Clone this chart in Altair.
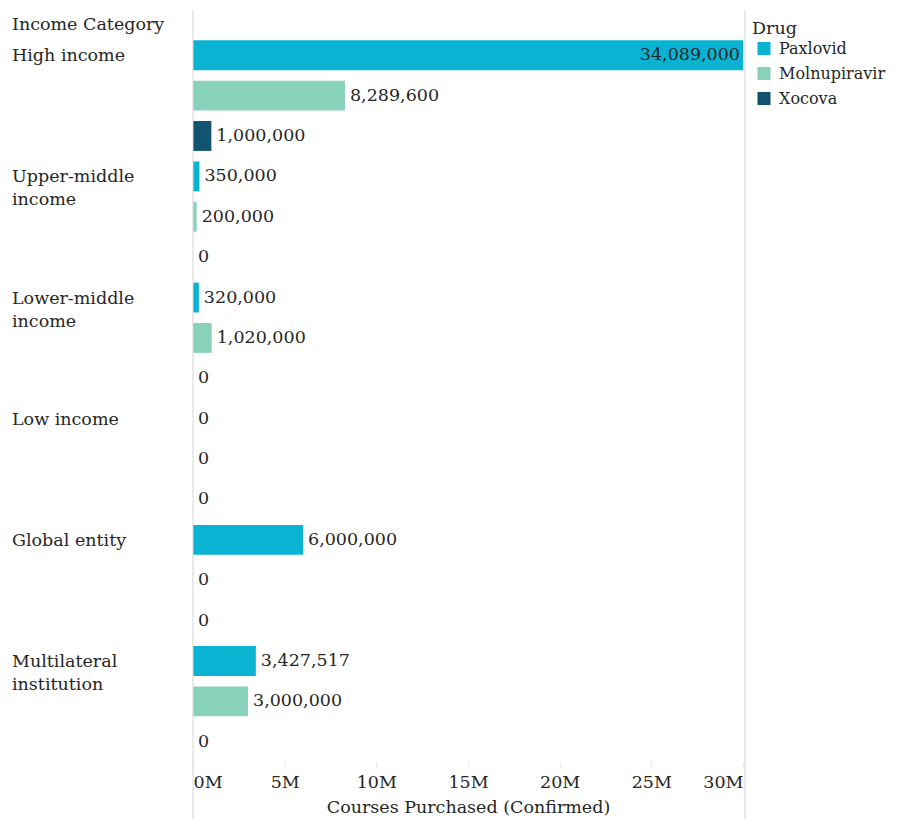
import altair as alt
import pandas as pd

categories = ["High income", "Upper-middle income", "Lower-middle income",
              "Low income", "Global entity", "Multilateral institution"]
category_labels = ["High income", "Upper-middle\nincome", "Lower-middle\nincome",
                   "Low income", "Global entity", "Multilateral\ninstitution"]
drugs = ["Paxlovid", "Molnupiravir", "Xocova"]
paxlovid = [34089000, 350000, 320000, 0, 6000000, 3427517]
molnupiravir = [8289600, 200000, 1020000, 0, 0, 3000000]
xocova = [1000000, 0, 0, 0, 0, 0]
colors = ["#0BB3D3", "#88D2BC", "#12536F"]
x_ticks = [0, 5000000, 10000000, 15000000, 20000000, 25000000, 30000000]
x_max = 30000000

series = {"Paxlovid": paxlovid, "Molnupiravir": molnupiravir, "Xocova": xocova}
rows = []
for ci, cat in enumerate(categories):
    for drug in drugs:
        rows.append({"category": cat, "label": category_labels[ci], "drug": drug,
                     "key": cat + "|" + drug, "value": series[drug][ci]})
df = pd.DataFrame(rows)
keys = list(df["key"])

FONT = "DejaVu Serif"
FS = 17.5
NFS = 17.5
LFS = 16
TXT = "#262626"
W, H = 550, 727

y_enc = alt.Y("key:N", sort=keys, axis=None,
              scale=alt.Scale(paddingInner=0.26, paddingOuter=0.13))
x_scale = alt.Scale(domain=[0, x_max], nice=False)

bars = alt.Chart(df).mark_bar(clip=True).encode(
    x=alt.X("value:Q", scale=x_scale,
            axis=alt.Axis(values=x_ticks, labelExpr="datum.value/1000000 + 'M'",
                          title="Courses Purchased (Confirmed)", grid=False, domain=False,
                          tickColor="#e6e6e6", tickSize=5, labelPadding=6, labelFlush=True,
                          labelFont=FONT, labelFontSize=FS, labelColor=TXT,
                          titleFont=FONT, titleFontSize=FS, titleFontWeight="normal",
                          titleColor=TXT, titlePadding=8)),
    y=y_enc,
    color=alt.Color("drug:N", scale=alt.Scale(domain=drugs, range=colors),
                    legend=alt.Legend(title="Drug", orient="none", legendX=559, legendY=-15,
                                      symbolType="square", symbolSize=170,
                                      symbolStrokeWidth=0, symbolOpacity=1, symbolOffset=4,
                                      labelFont=FONT, labelFontSize=LFS, labelColor=TXT,
                                      titleFont=FONT, titleFontSize=FS, titleFontWeight="normal",
                                      titleColor=TXT, rowPadding=9, titlePadding=3,
                                      labelOffset=7, labelLimit=200)),
)

text_in = alt.Chart(df).transform_filter(f"datum.value <= {x_max}").mark_text(
    align="left", baseline="middle", dx=5, font=FONT, fontSize=NFS, color=TXT
).encode(x=alt.X("value:Q", scale=x_scale), y=y_enc, text=alt.Text("value:Q", format=",d"))

text_out = alt.Chart(df).transform_filter(f"datum.value > {x_max}").transform_calculate(
    xpos=f"{x_max}"
).mark_text(
    align="right", baseline="middle", dx=-3, font=FONT, fontSize=NFS, color=TXT
).encode(x=alt.X("xpos:Q", scale=x_scale), y=y_enc, text=alt.Text("value:Q", format=",d"))

cat_text = alt.Chart(df).transform_filter("datum.drug == 'Paxlovid'").mark_text(
    align="left", baseline="alphabetic", dy=6, lineBreak="\n", lineHeight=23,
    font=FONT, fontSize=FS, color=TXT
).encode(x=alt.value(-181), y=y_enc, text="label:N")

header = alt.Chart(pd.DataFrame({"t": ["Income Category"]})).mark_text(
    align="left", baseline="middle", font=FONT, fontSize=FS, color=TXT
).encode(x=alt.value(-181), y=alt.value(-10), text="t:N")

border_df = pd.DataFrame({"side": ["left", "right"]})
left_line = alt.Chart(border_df).transform_filter("datum.side == 'left'").mark_rule(
    color="#d4d4d4", strokeWidth=1
).encode(x=alt.value(0), y=alt.value(-25), y2=alt.value(H + 70))
right_line = alt.Chart(border_df).transform_filter("datum.side == 'right'").mark_rule(
    color="#d4d4d4", strokeWidth=1
).encode(x=alt.value(W + 2), y=alt.value(-25), y2=alt.value(H + 70))

chart = alt.layer(bars, text_in, text_out, cat_text, header, left_line, right_line).properties(
    width=W, height=H,
    autosize=alt.AutoSizeParams(type="none"),
    padding={"left": 185, "top": 27, "right": 146, "bottom": 57}
).configure_view(stroke=None)

chart.save("out.html", embed_options={"renderer": "svg", "actions": False})
